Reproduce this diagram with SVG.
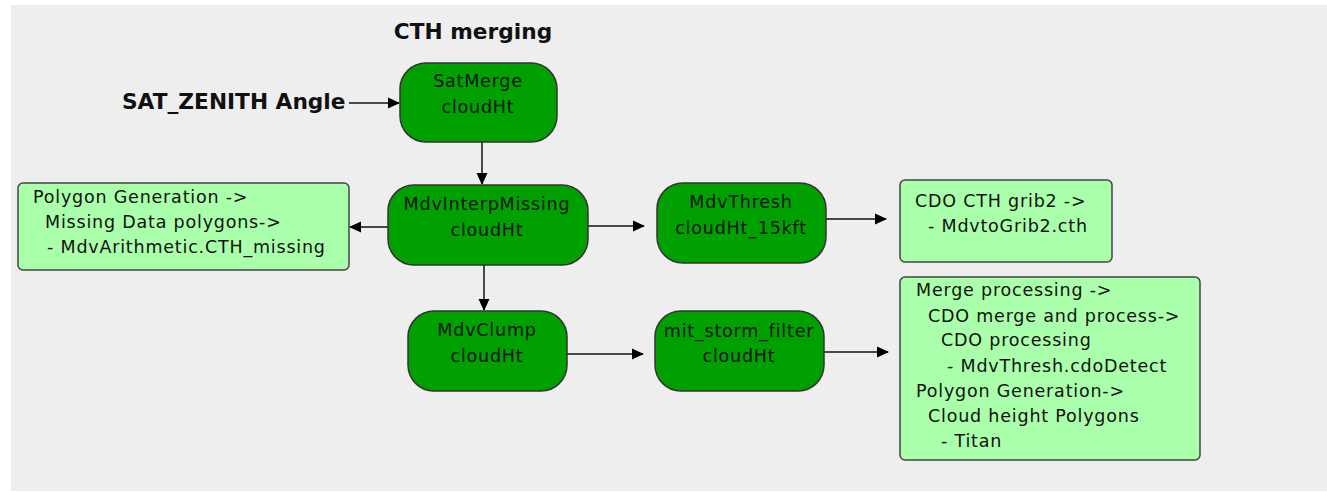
<svg xmlns="http://www.w3.org/2000/svg" width="1327" height="492" viewBox="0 0 1327 492">
<defs>
<style>
.bg{fill:#eeeeee}
.proc{fill:#00a000;stroke:#333;stroke-width:1.5}
.note{fill:#aaffaa;stroke:#444;stroke-width:1.5}
.t{font-family:"DejaVu Sans",sans-serif;font-size:17.5px;letter-spacing:0.8px;fill:#111}
.c{text-anchor:middle}
.b{font-family:"DejaVu Sans",sans-serif;font-size:21.7px;font-weight:bold;fill:#111}
.ln{stroke:#111;stroke-width:1.5;fill:none;marker-end:url(#ah)}
</style>
<marker id="ah" markerWidth="12" markerHeight="12" refX="11" refY="6" orient="auto" markerUnits="userSpaceOnUse">
<path d="M0,0.5 L12,6 L0,11.5 Z" fill="#000"/>
</marker>
</defs>
<rect x="0" y="0" width="1327" height="492" fill="#fff"/>
<rect class="bg" x="11" y="5" width="1316" height="486"/>
<text class="b c" x="473" y="39">CTH merging</text>
<text class="b" x="122" y="109">SAT_ZENITH Angle</text>
<g id="connectors">
<line class="ln" x1="349" y1="103" x2="399" y2="103"/>
<line class="ln" x1="482" y1="142" x2="482" y2="184"/>
<line class="ln" x1="388" y1="227" x2="350" y2="227"/>
<line class="ln" x1="588" y1="226" x2="644" y2="226"/>
<line class="ln" x1="826" y1="219" x2="886" y2="219"/>
<line class="ln" x1="484" y1="265" x2="484" y2="310"/>
<line class="ln" x1="567" y1="354" x2="643" y2="354"/>
<line class="ln" x1="824" y1="352" x2="888" y2="352"/>
</g>
<g id="satmerge">
<rect class="proc" x="400" y="63" width="157" height="79" rx="26"/>
<text class="t c" x="478" y="87">SatMerge</text>
<text class="t c" x="478" y="113">cloudHt</text>
</g>
<g id="mdvinterp">
<rect class="proc" x="388" y="185" width="200" height="80" rx="26"/>
<text class="t c" x="487" y="210">MdvInterpMissing</text>
<text class="t c" x="487" y="236">cloudHt</text>
</g>
<g id="polygon-missing">
<rect class="note" x="18" y="183" width="331" height="87" rx="5"/>
<text class="t" x="33" y="203">Polygon Generation -&gt;</text>
<text class="t" x="45" y="228">Missing Data polygons-&gt;</text>
<text class="t" x="47" y="253">- MdvArithmetic.CTH_missing</text>
</g>
<g id="mdvthresh">
<rect class="proc" x="657" y="183" width="169" height="80" rx="26"/>
<text class="t c" x="741" y="208">MdvThresh</text>
<text class="t c" x="741" y="234">cloudHt_15kft</text>
</g>
<g id="cdo-grib2">
<rect class="note" x="900" y="180" width="212" height="82" rx="5"/>
<text class="t" x="915" y="207">CDO CTH grib2 -&gt;</text>
<text class="t" x="928" y="232">- MdvtoGrib2.cth</text>
</g>
<g id="mdvclump">
<rect class="proc" x="408" y="311" width="159" height="80" rx="26"/>
<text class="t c" x="487" y="336">MdvClump</text>
<text class="t c" x="487" y="362">cloudHt</text>
</g>
<g id="storm-filter">
<rect class="proc" x="655" y="311" width="169" height="80" rx="26"/>
<text class="t c" x="739" y="337">mit_storm_filter</text>
<text class="t c" x="739" y="362">cloudHt</text>
</g>
<g id="merge-processing">
<rect class="note" x="900" y="277" width="300" height="183" rx="5"/>
<text class="t" x="916" y="296">Merge processing -&gt;</text>
<text class="t" x="928" y="322">CDO merge and process-&gt;</text>
<text class="t" x="941" y="346">CDO processing</text>
<text class="t" x="947" y="372">- MdvThresh.cdoDetect</text>
<text class="t" x="916" y="397">Polygon Generation-&gt;</text>
<text class="t" x="928" y="422">Cloud height Polygons</text>
<text class="t" x="941" y="447">- Titan</text>
</g>
</svg>
